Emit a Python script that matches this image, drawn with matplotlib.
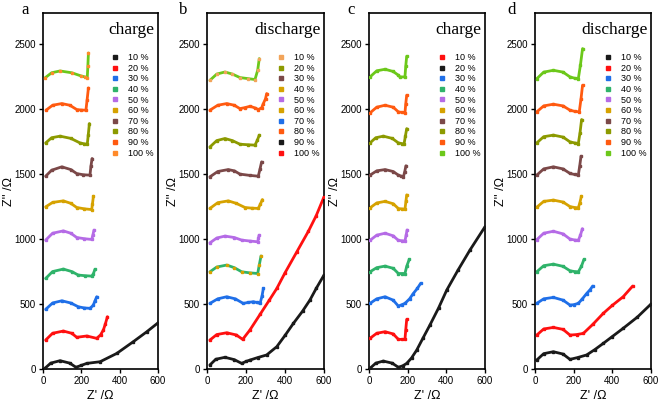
import matplotlib.pyplot as plt
from matplotlib.lines import Line2D

plt.rcParams['font.family'] = ['Liberation Sans', 'DejaVu Sans']

# --------------------------------------------------
# data (Z' / Z'' in Ohm), one list per SOC label, legend order 10 % .. 100 %
# --------------------------------------------------
labels = ['10 %', '20 %', '30 %', '40 %', '50 %', '60 %', '70 %', '80 %', '90 %', '100 %']
panel_letters = ['a', 'b', 'c', 'd']
panel_titles = ['charge', 'discharge', 'charge', 'discharge']

a_x = [
    [10, 40, 89, 140, 172, 200, 228, 298, 385, 471, 540, 600],
    [14, 50, 106, 150, 176, 228, 280, 300, 315, 326, 336],
    [14, 50, 98, 145, 184, 215, 245, 262, 270, 280],
    [14, 50, 106, 150, 184, 220, 254, 262, 271],
    [14, 50, 106, 145, 176, 215, 254, 260, 266],
    [14, 50, 106, 145, 176, 215, 254, 258, 263],
    [14, 45, 98, 145, 176, 210, 245, 250, 256],
    [14, 45, 89, 145, 193, 215, 231, 236, 242],
    [16, 50, 98, 140, 176, 200, 224, 230, 237],
    [10, 45, 89, 150, 200, 219, 231, 234, 237],
]
a_y = [
    [5, 45, 64, 45, 13, 28, 43, 56, 120, 210, 285, 355],
    [223, 275, 292, 275, 244, 254, 236, 262, 300, 350, 402],
    [459, 508, 525, 508, 479, 470, 467, 490, 520, 556],
    [697, 750, 769, 750, 723, 718, 715, 730, 767],
    [992, 1045, 1063, 1045, 1012, 1003, 997, 1030, 1069],
    [1248, 1282, 1294, 1275, 1243, 1233, 1227, 1270, 1330],
    [1484, 1530, 1556, 1535, 1504, 1495, 1492, 1560, 1620],
    [1740, 1780, 1792, 1775, 1740, 1733, 1730, 1800, 1889],
    [1992, 2030, 2043, 2030, 1997, 1993, 1992, 2070, 2163],
    [2240, 2280, 2294, 2280, 2255, 2248, 2243, 2330, 2432],
]

b_x = [
    [15, 50, 92, 130, 169, 210, 246, 260, 268],
    [15, 50, 92, 130, 169, 210, 246, 258, 268],
    [15, 55, 109, 140, 169, 220, 263, 272, 280],
    [15, 55, 109, 150, 195, 230, 263, 274, 284],
    [15, 50, 92, 140, 178, 220, 260, 264, 267],
    [15, 50, 101, 140, 178, 220, 260, 268, 277],
    [15, 55, 101, 145, 186, 210, 238, 255, 272, 282, 289],
    [15, 55, 101, 140, 169, 195, 221, 245, 263, 280, 289, 300, 306],
    [15, 45, 92, 140, 178, 200, 221, 260, 306, 358, 400, 443, 490, 528, 560, 600],
    [15, 50, 101, 150, 183, 220, 272, 320, 358, 400, 460, 520, 560, 600],
]
b_y = [
    [2222, 2270, 2286, 2270, 2243, 2235, 2228, 2300, 2389],
    [1709, 1758, 1774, 1758, 1730, 1726, 1723, 1760, 1800],
    [1479, 1520, 1535, 1525, 1500, 1490, 1484, 1540, 1594],
    [1236, 1280, 1294, 1275, 1243, 1238, 1236, 1270, 1304],
    [971, 1008, 1023, 1012, 992, 985, 979, 1005, 1030],
    [748, 785, 800, 780, 748, 740, 735, 800, 870],
    [505, 540, 556, 540, 505, 512, 518, 512, 505, 560, 620],
    [1992, 2030, 2043, 2030, 2004, 2012, 2022, 2010, 1997, 2010, 2043, 2080, 2120],
    [31, 75, 90, 72, 43, 58, 69, 88, 108, 172, 258, 351, 445, 531, 620, 723],
    [223, 265, 279, 262, 228, 300, 420, 531, 620, 740, 900, 1060, 1180, 1325],
]

c_x = [
    [5, 40, 83, 125, 152, 170, 186, 190, 195],
    [5, 35, 74, 120, 152, 175, 195, 220, 247, 280, 315, 360, 402, 460, 522, 600],
    [5, 40, 83, 125, 152, 170, 186, 210, 229, 250, 267],
    [5, 40, 83, 125, 152, 170, 186, 195, 208],
    [5, 40, 83, 125, 152, 170, 186, 192, 197],
    [5, 40, 83, 125, 152, 170, 186, 191, 195],
    [5, 40, 83, 125, 152, 165, 178, 185, 191],
    [5, 35, 74, 120, 152, 170, 181, 188, 195],
    [5, 40, 83, 125, 152, 170, 186, 190, 195],
    [5, 40, 83, 125, 152, 160, 186, 190, 195],
]
c_y = [
    [236, 275, 287, 270, 228, 228, 228, 300, 381],
    [5, 45, 61, 45, 13, 25, 43, 85, 146, 240, 338, 470, 607, 760, 915, 1095],
    [505, 540, 556, 530, 484, 495, 505, 540, 581, 620, 659],
    [748, 780, 792, 775, 735, 735, 735, 790, 843],
    [990, 1030, 1045, 1025, 990, 987, 985, 1030, 1070],
    [1240, 1278, 1290, 1272, 1235, 1232, 1230, 1290, 1340],
    [1492, 1525, 1535, 1520, 1492, 1485, 1479, 1520, 1564],
    [1740, 1780, 1792, 1775, 1740, 1735, 1730, 1790, 1850],
    [1971, 2015, 2030, 2015, 1979, 1975, 1971, 2040, 2107],
    [2248, 2295, 2307, 2290, 2261, 2248, 2248, 2330, 2407],
]

d_x = [
    [9, 45, 95, 145, 181, 220, 267, 310, 353, 400, 456, 530, 600],
    [9, 45, 95, 145, 181, 215, 250, 300, 353, 400, 456, 505],
    [9, 45, 95, 145, 181, 200, 224, 245, 267, 285, 298],
    [9, 45, 95, 145, 181, 205, 224, 240, 253],
    [9, 45, 95, 145, 181, 205, 224, 235, 245],
    [9, 45, 95, 145, 181, 205, 224, 232, 240],
    [9, 45, 95, 145, 181, 205, 224, 231, 238],
    [9, 45, 95, 145, 181, 205, 224, 233, 241],
    [9, 45, 95, 145, 181, 205, 229, 238, 246],
    [9, 45, 95, 145, 181, 205, 224, 235, 246],
]
d_y = [
    [69, 118, 133, 115, 74, 88, 108, 150, 197, 250, 313, 400, 500],
    [261, 308, 320, 305, 261, 265, 274, 345, 428, 490, 556, 638],
    [505, 540, 551, 530, 492, 495, 505, 540, 581, 610, 638],
    [748, 795, 807, 790, 756, 750, 748, 790, 843],
    [995, 1045, 1060, 1040, 1000, 993, 990, 1030, 1080],
    [1245, 1290, 1300, 1285, 1250, 1243, 1240, 1280, 1330],
    [1492, 1540, 1556, 1540, 1505, 1497, 1492, 1560, 1638],
    [1740, 1788, 1800, 1785, 1748, 1740, 1735, 1820, 1920],
    [1979, 2025, 2038, 2025, 1992, 1983, 1979, 2080, 2184],
    [2234, 2285, 2299, 2285, 2248, 2238, 2234, 2340, 2466],
]

# colours
BK, RD, BL, GN = '#1a1a1a', '#ff1010', '#1f6fe8', '#2fb36a'
PU, GD, BR, OL = '#b56be6', '#d6a200', '#7b4848', '#8c9a00'
OR, TN, LG = '#ff5a10', '#f2a45a', '#6cc81a'

a_mk = [BK, RD, BL, GN, PU, GD, BR, OL, OR, '#ff8a2a']
a_ln = [BK, RD, BL, GN, PU, GD, BR, OL, OR, LG]
b_mk = [TN, OL, BR, GD, PU, GD, BL, OR, BK, RD]
b_ln = [LG, OL, BR, GD, PU, GN, BL, OR, BK, RD]
c_mk = [RD, BK, BL, GN, PU, GD, BR, OL, OR, LG]
c_ln = c_mk
d_mk = [BK, RD, BL, GN, PU, GD, BR, OL, OR, LG]
d_ln = d_mk

panels = [
    (a_x, a_y, a_mk, a_ln),
    (b_x, b_y, b_mk, b_ln),
    (c_x, c_y, c_mk, c_ln),
    (d_x, d_y, d_mk, d_ln),
]

# axes positions in pixels (left, width) for a 661x403 figure
W, H = 661.0, 403.0
lefts = [43, 207, 369, 535]
widths = [115, 117, 116, 116]
letter_x = [25, 183, 351, 512]

fig = plt.figure(figsize=(6.61, 4.03), dpi=100)

for k, (xs, ys, mks, lns) in enumerate(panels):
    ax = fig.add_axes([lefts[k] / W, 1 - 369 / H, widths[k] / W, 356 / H])
    for i in range(len(labels)):
        ax.plot(xs[i], ys[i], color=lns[i], lw=2.0, zorder=2, solid_capstyle='round')
        ax.plot(xs[i], ys[i], ls='none', marker='s', ms=1.8, color=mks[i], zorder=3)

    ax.set_xlim(0, 600)
    ax.set_ylim(0, 2740)
    ax.set_xticks([0, 200, 400, 600])
    ax.set_yticks([0, 500, 1000, 1500, 2000, 2500])
    ax.tick_params(labelsize=7, length=3, width=1, direction='out', pad=2)
    for s in ax.spines.values():
        s.set_linewidth(1.2)
    ax.set_xlabel("Z' /Ω", fontsize=9, labelpad=3)
    ax.set_ylabel("Z'' /Ω", fontsize=9, labelpad=0)

    ax.text(0.97, 0.975, panel_titles[k], transform=ax.transAxes, ha='right', va='top',
            fontsize=12.5, family='Liberation Serif')
    fig.text(letter_x[k] / W, 1 - 10 / H, panel_letters[k], ha='center', va='center',
             fontsize=12, family='Liberation Serif')

    handles = [Line2D([], [], ls='none', marker='s', ms=2.5, color=mks[i]) for i in range(len(labels))]
    ax.legend(handles, labels, loc='upper right', bbox_to_anchor=(1.0, 0.9), frameon=False,
              fontsize=6.5, handlelength=0.8, handletextpad=1.0, labelspacing=0.18,
              borderpad=0.2, borderaxespad=0.3)

fig.savefig('out.png', dpi=100)
